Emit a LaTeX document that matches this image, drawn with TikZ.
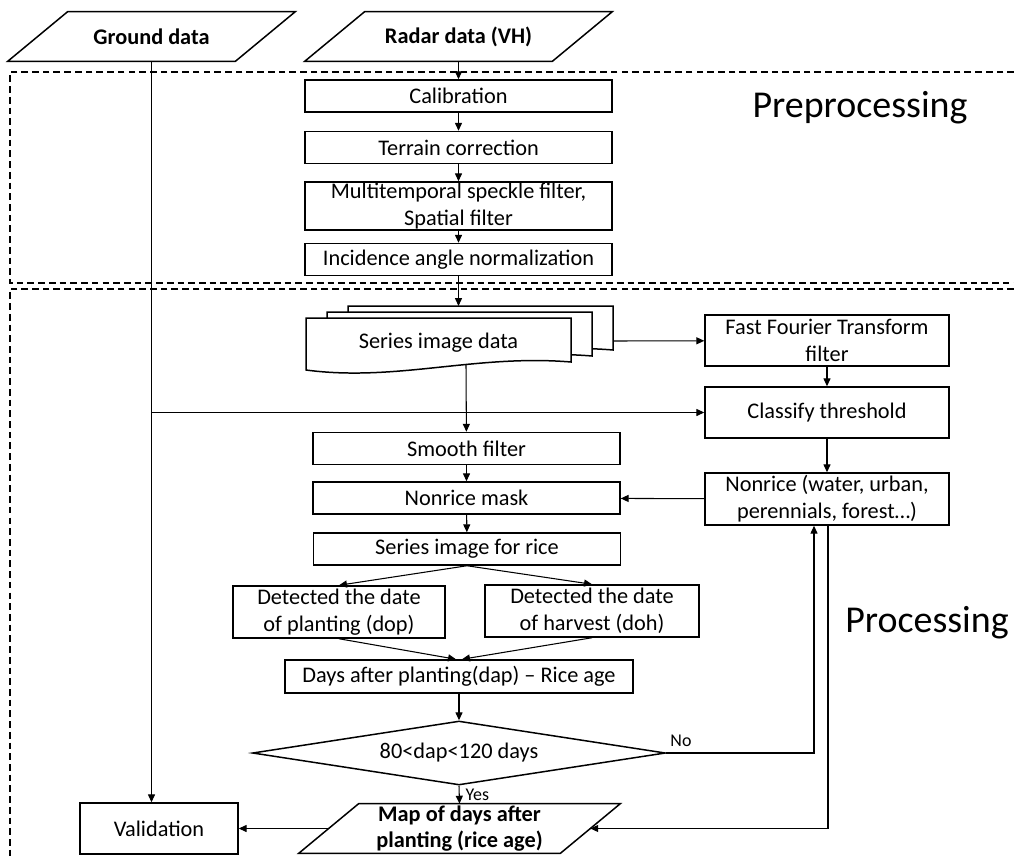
\documentclass[tikz,border=0pt]{standalone}
\usepackage{fontspec}
\setmainfont{Carlito}
\usetikzlibrary{shapes.geometric,arrows.meta}

\tikzset{
	every node/.style={font=\fontsize{12.7}{15.3}\selectfont, align=center},
	bold/.style={font=\fontsize{12.7}{15.3}\selectfont\bfseries},
	tag/.style={font=\fontsize{10.2}{12}\selectfont},
	zonetitle/.style={font=\fontsize{21.6}{26}\selectfont},
	box/.style={draw, line width=0.85pt, minimum width=6.14cm, minimum height=0.64cm, inner sep=0pt},
	sidebox/.style={box, minimum width=4.88cm, minimum height=1.02cm},
	iobox/.style={minimum height=0.98cm, inner sep=0pt, bold},
	arr/.style={-{Triangle[length=4.5pt,width=4pt]}, line width=0.6pt},
	zone/.style={line width=0.6pt, dash pattern=on 3.8pt off 2.3pt}
}
\newcommand\iopath[1]{\draw [line width=0.85pt] ([xshift=-0.6cm]#1.south west) -- ([xshift=-0.6cm]#1.south east) -- ([xshift=0.6cm]#1.north east) -- ([xshift=0.6cm]#1.north west) -- cycle;}

\begin{document}
\begin{tikzpicture}[x=0.02cm, y=-0.02cm]
		\useasboundingbox (0,0) rectangle (1014,859);
		\draw [zone] (1014,72) -| (10,283) -- (1014,283);
		\draw [zone] (1014,289) -| (10,859);
		\node [zonetitle] (pretitle) at (860,108) {Preprocessing};
		\node [zonetitle] (proctitle) at (927,623) {Processing};

		\node [iobox, minimum width=4.54cm] (ground) at (151.5,36.5) {Ground data};
		\iopath{ground}
		\node [iobox, minimum width=4.94cm] (radar) at (458.5,36.5) {Radar data (VH)};
		\iopath{radar}

		\node [box] (calib) at (458.5,96) {Calibration};
		\node [box] (terrain) at (458.5,147.5) {Terrain correction};
		\node [box, minimum height=0.96cm] (speckle) at (458.5,206) {Multitemporal speckle filter,\\Spatial filter};
		\node [box] (incid) at (458.5,259.5) {Incidence angle normalization};

		\foreach \dx/\dy in {42/-12, 21/-6, 0/0}
			\draw [line width=0.85pt, fill=white, shift={(\dx,\dy)}] (306,318) -- (571,318) -- (571,362) .. controls (476,354) and (396,382) .. (306,370) -- cycle;
		\node (series) at (438.5,343) {Series image data};
		\coordinate (stacktop) at (458.5,306);
		\coordinate (stackright) at (613,341);
		\coordinate (stackbottom) at (466,365);

		\node [sidebox] (fft) at (827,340.5) {Fast Fourier Transform\\filter};
		\node [sidebox] (classify) at (827,412.5) {Classify threshold};
		\node [sidebox, minimum height=1.04cm] (nonrice) at (827,499) {Nonrice (water, urban,\\perennials, forest…)};

		\node [box] (smooth) at (466.5,448.5) {Smooth filter};
		\node [box] (mask) at (466.5,498) {Nonrice mask};
		\node [box] (rice) at (467,549) {Series image for rice};
		\node [box, minimum width=4.24cm, minimum height=1.04cm] (dop) at (339,612) {Detected the date\\of planting (dop)};
		\node [box, minimum width=4.28cm, minimum height=1.04cm] (doh) at (592,611) {Detected the date\\of harvest (doh)};
		\node [box, minimum width=6.96cm, minimum height=0.66cm] (dap) at (459,676.5) {Days after planting(dap) -- Rice age};
		\node [draw, line width=0.85pt, diamond, aspect=6.45, minimum width=8.26cm, minimum height=1.28cm, inner sep=0pt] (check) at (459,753) {80<dap<120 days};
		\node [iobox, minimum width=5.22cm] (map) at (459.5,828.5) {Map of days after\\planting (rice age)};
		\iopath{map}
		\node [box, minimum width=3.16cm, minimum height=1.02cm] (valid) at (159,828.5) {Validation};

		\draw [arr] (radar) -- (calib);
		\draw [arr] (calib) -- (terrain);
		\draw [arr] (terrain) -- (speckle);
		\draw [arr] (speckle) -- (incid);
		\draw [arr] (incid) -- (stacktop);
		\draw [arr] (stackright) -- (fft);
		\draw [arr] (fft) -- (classify);
		\draw [arr] (classify) -- (nonrice);
		\draw [arr] (nonrice) -- (mask);
		\draw [arr] (stackbottom) -- (smooth);
		\draw [arr] (smooth) -- (mask);
		\draw [arr] (mask) -- (rice);
		\draw [arr] (rice.south) -- (dop.north);
		\draw [arr] (rice.south) -- (doh.north);
		\draw [arr] (dop.south) -- ([xshift=-0.06cm]dap.north);
		\draw [arr] (doh.south) -- ([xshift=0.06cm]dap.north);
		\draw [arr] (dap) -- (check);
		\draw [arr] (check.east) -| node [pos=0.05, above, tag] {No} ([xshift=-0.26cm]nonrice.south);
		\draw [arr] (check.south) -- node [right, tag] {Yes} (map.north);
		\draw [arr] ([xshift=0.02cm]nonrice.south) |- (map.east);
		\draw [arr] (map.west) -- (valid);
		\draw [arr] (ground.south) -- (ground.south |- valid.north);
		\draw [arr] (ground.south |- classify.west) -- (classify);
	\end{tikzpicture}
\end{document}
